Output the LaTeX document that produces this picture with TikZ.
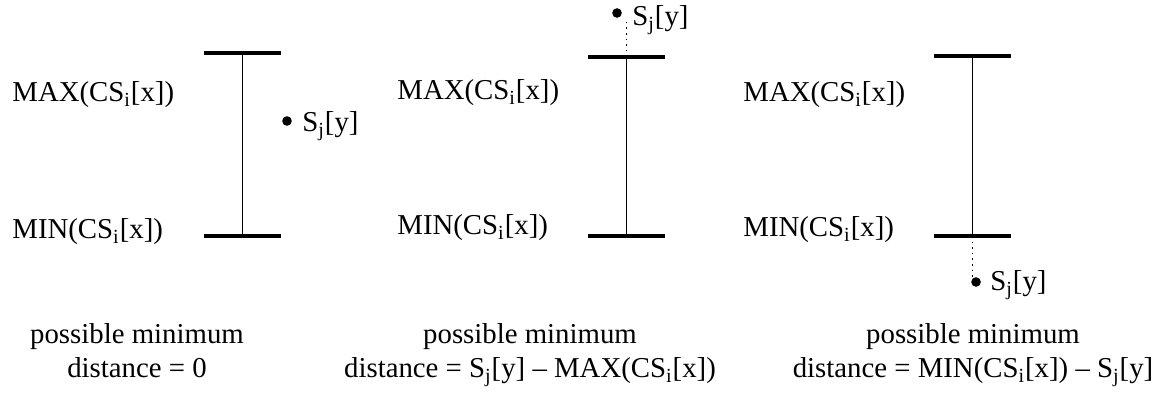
\documentclass[tikz,border=0pt]{standalone}
\usepackage{fontspec}
\setmainfont{Liberation Serif}
\usetikzlibrary{calc}

\newcommand{\Sjy}{S\textsubscript{j}[y]}
\newcommand{\CSix}{CS\textsubscript{i}[x]}

\tikzset{
	bar/.style={line width=2.1pt},
	stem/.style={line width=0.8pt},
	gap/.style={dotted, line width=0.8pt},
	dot/.style={circle, fill, inner sep=0pt, minimum size=4.8pt},
	lbl/.style={anchor=base west, inner sep=0pt, font=\fontsize{14.4}{17}\selectfont},
	captext/.style={anchor=base, inner sep=0pt, font=\fontsize{14.4}{17}\selectfont},
}

\begin{document}
\begin{tikzpicture}[x=0.5pt, y=-0.5pt]
					\useasboundingbox (0,0) rectangle (1160,394);

					% the three ranges
					\foreach \n/\x/\yt/\lx/\ymax/\ymin in {1/242.5/53/12/102/239, 2/626.5/57/397/100/235, 3/972.5/56/743/102/237}
					{
						\coordinate (top\n) at (\x,\yt);
						\coordinate (bot\n) at (\x,236);
						\draw[bar] ($(top\n)+(-38.5,0)$) -- ($(top\n)+(38.5,0)$);
						\draw[bar] ($(bot\n)+(-38.5,0)$) -- ($(bot\n)+(38.5,0)$);
						\draw[stem] (top\n) -- (bot\n);
						\node[lbl] (max\n) at (\lx,\ymax) {MAX(\CSix)};
						\node[lbl] (min\n) at (\lx,\ymin) {MIN(\CSix)};
					}

					% the points
					\begin{scope}
						\node[dot] (pt1) at (287,121) {};
						\node[lbl] (sj1) at (302,132) {\Sjy};

						\node[dot] (pt2) at (617,13) {};
						\node[lbl] (sj2) at (632,26) {\Sjy};
						\draw[gap] (top2) -- (top2 |- pt2.south);

						\node[dot] (pt3) at (976,282) {};
						\node[lbl] (sj3) at (990,291) {\Sjy};
						\draw[gap] (bot3) -- (bot3 |- pt3.north);
					\end{scope}

					% captions
					\begin{scope}
						\node[captext] (capa1) at (137,344) {possible minimum};
						\node[captext] (capb1) at (137,378) {distance = 0};
						\node[captext] (capa2) at (530,344) {possible minimum};
						\node[captext] (capb2) at (530,378) {distance = \Sjy{} -- MAX(\CSix)};
						\node[captext] (capa3) at (973,344) {possible minimum};
						\node[captext] (capb3) at (973,378) {distance = MIN(\CSix) -- \Sjy};
					\end{scope}
				\end{tikzpicture}
\end{document}
